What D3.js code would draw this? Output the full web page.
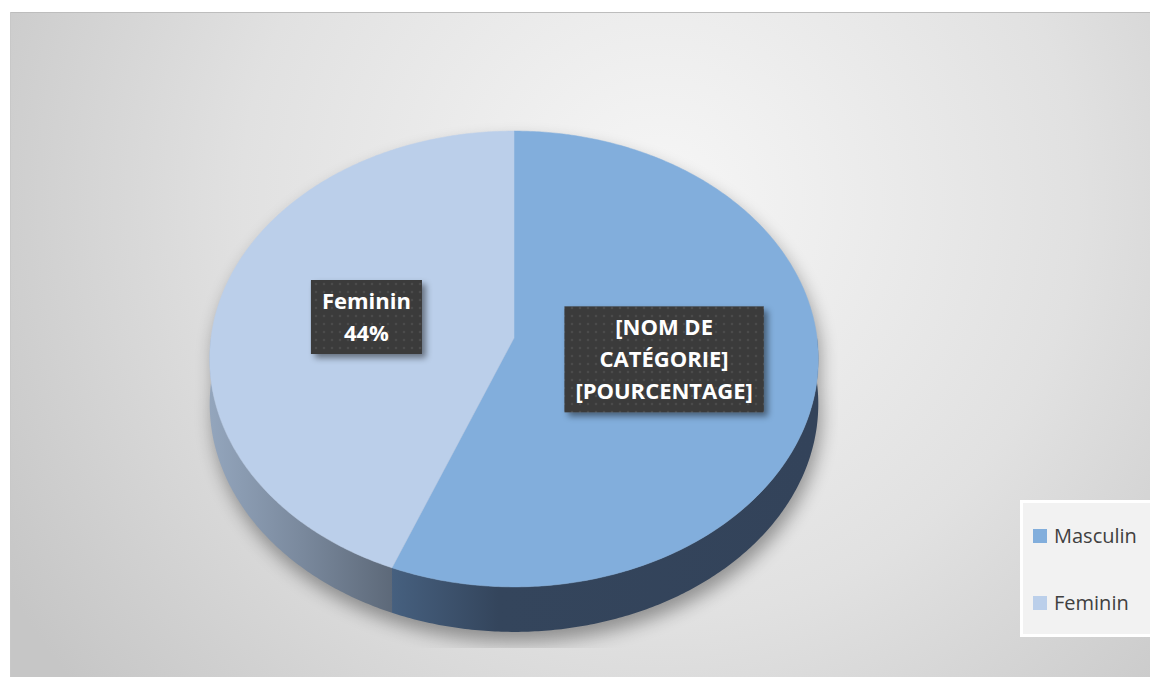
<!DOCTYPE html>
<html>
<head>
<meta charset="utf-8">
<script src="https://cdn.jsdelivr.net/npm/d3@7"></script>
<style>
  body { margin: 0; background: #fff; }
  text { font-family: "Open Sans", Lato, sans-serif; }
</style>
</head>
<body>
<svg id="sketch"></svg>
<script>
// data
var categories = ['Masculin', 'Feminin'];
var values = [56, 44];
var labelLines = [['[NOM DE', 'CATÉGORIE]', '[POURCENTAGE]'], ['Feminin', '44%']];
var topColors = ['#82aedc', '#bbcfea'];
var sideColors = [['#46607f', '#34455c', '#33435a'], ['#93a5bc', '#7a899d', '#5d6979']];

var W = 1150, H = 677;
var svg = d3.select('#sketch').attr('width', W).attr('height', H);
var defs = svg.append('defs');

// background
var bg = defs.append('radialGradient').attr('id', 'bg')
    .attr('gradientUnits', 'userSpaceOnUse')
    .attr('cx', 660).attr('cy', 200).attr('r', 760);
bg.append('stop').attr('offset', 0).attr('stop-color', '#f6f6f6');
bg.append('stop').attr('offset', 0.55).attr('stop-color', '#e1e1e1');
bg.append('stop').attr('offset', 1).attr('stop-color', '#c6c6c6');

svg.append('rect').attr('x', 10).attr('y', 12).attr('width', 1140).attr('height', 665)
    .attr('fill', 'url(#bg)');
svg.append('line').attr('x1', 10).attr('x2', 1150).attr('y1', 12.5).attr('y2', 12.5)
    .attr('stroke', '#bdbdbd');
svg.append('line').attr('x1', 10.5).attr('x2', 10.5).attr('y1', 12).attr('y2', 677)
    .attr('stroke', '#c8c8c8');

// pie geometry (simple perspective ellipse)
var cx = 514, cy = 338, R = 303, HR = 226, k = 0.092, depth = 45;
function proj(a, r, dy) {
    var u = Math.sin(a) * r, v = -Math.cos(a) * r;
    var f = 1 / (1 - k * v);
    return [cx + R * u * f, cy + HR * v * f + (dy || 0)];
}
function arcPts(a0, a1, dy) {
    var n = Math.max(2, Math.ceil(Math.abs(a1 - a0) / 0.01));
    return d3.range(n + 1).map(function(i) { return proj(a0 + (a1 - a0) * i / n, 1, dy); });
}
var line = d3.line();

var pie = d3.pie().sort(null).value(function(d) { return d; });
var arcs = pie(values);

// shadow
var sh = defs.append('filter').attr('id', 'pieShadow')
    .attr('x', '-20%').attr('y', '-20%').attr('width', '140%').attr('height', '140%');
sh.append('feGaussianBlur').attr('stdDeviation', 9);
defs.append('clipPath').attr('id', 'shClip').append('rect')
    .attr('x', 188).attr('y', 120).attr('width', 650).attr('height', 528);

var outline = arcPts(0, Math.PI / 2).concat(arcPts(Math.PI / 2, 3 * Math.PI / 2, depth))
    .concat(arcPts(3 * Math.PI / 2, 2 * Math.PI));
svg.append('g').attr('clip-path', 'url(#shClip)')
    .append('path')
    .attr('d', line(outline) + 'Z')
    .attr('transform', 'translate(3,10)')
    .attr('fill', '#000').attr('opacity', 0.36)
    .attr('filter', 'url(#pieShadow)');

// side walls
var sides = svg.append('g');
arcs.forEach(function(d, i) {
    var s = Math.max(d.startAngle, Math.PI / 2), e = Math.min(d.endAngle, 3 * Math.PI / 2);
    if (s >= e) return;
    var p0 = proj(s, 1), p1 = proj(e, 1);
    var g = defs.append('linearGradient').attr('id', 'side' + i)
        .attr('gradientUnits', 'userSpaceOnUse')
        .attr('x1', Math.min(p0[0], p1[0])).attr('x2', Math.max(p0[0], p1[0]))
        .attr('y1', 0).attr('y2', 0);
    var stops = i === 0 ? [0, 0.25, 1] : [0, 0.5, 1];
    sideColors[i].forEach(function(c, j) {
        g.append('stop').attr('offset', stops[j]).attr('stop-color', c);
    });
    var pts = arcPts(s, e, 0).concat(arcPts(e, s, depth));
    sides.append('path').attr('d', line(pts) + 'Z')
        .attr('fill', 'url(#side' + i + ')');
});

// top faces
var tops = svg.append('g');
arcs.forEach(function(d, i) {
    var pts = [proj(0, 0)].concat(arcPts(d.startAngle, d.endAngle, 0));
    tops.append('path').attr('d', line(pts) + 'Z')
        .attr('fill', topColors[i])
        .attr('stroke', topColors[i]).attr('stroke-width', 0.5);
});

// data labels
var pat = defs.append('pattern').attr('id', 'dots')
    .attr('patternUnits', 'userSpaceOnUse').attr('width', 8).attr('height', 8);
pat.append('rect').attr('width', 8).attr('height', 8).attr('fill', '#3a3a3a');
pat.append('circle').attr('cx', 4).attr('cy', 4).attr('r', 1.3).attr('fill', '#4c4c4c');

var ls = defs.append('filter').attr('id', 'lblShadow')
    .attr('x', '-20%').attr('y', '-20%').attr('width', '150%').attr('height', '150%');
ls.append('feDropShadow').attr('dx', 4).attr('dy', 4).attr('stdDeviation', 3)
    .attr('flood-color', '#000').attr('flood-opacity', 0.45);

var lh = 32, fs = 22;
arcs.forEach(function(d, i) {
    var mid = (d.startAngle + d.endAngle) / 2;
    var c = proj(mid, 0.5);
    var lines = labelLines[i];
    var g = svg.append('g');
    var box = g.append('rect').attr('fill', 'url(#dots)').attr('filter', 'url(#lblShadow)');
    var t = g.append('text').attr('text-anchor', 'middle')
        .attr('fill', '#fff').style('font-size', fs + 'px').style('font-weight', 700);
    var y0 = c[1] - (lines.length - 1) * lh / 2 + fs * 0.36;
    lines.forEach(function(l, j) {
        t.append('tspan').attr('x', c[0]).attr('y', y0 + j * lh).text(l);
    });
    var w = 0;
    t.selectAll('tspan').each(function() { w = Math.max(w, this.getComputedTextLength()); });
    var bw = w + 22, bh = lines.length * lh + 10;
    box.attr('x', c[0] - bw / 2).attr('y', c[1] - bh / 2).attr('width', bw).attr('height', bh);
});

// legend
var leg = svg.append('g');
leg.append('rect').attr('x', 1021.5).attr('y', 501.5).attr('width', 130).attr('height', 134)
    .attr('fill', '#f2f2f2').attr('stroke', '#fff').attr('stroke-width', 3);
var ly = d3.scalePoint().domain(categories).range([536, 603]);
categories.forEach(function(c, i) {
    leg.append('rect').attr('x', 1033).attr('y', ly(c) - 7).attr('width', 14).attr('height', 14)
        .attr('fill', topColors[i]);
    leg.append('text').attr('x', 1054).attr('y', ly(c) + 7)
        .attr('fill', '#404040').style('font-size', '20px').text(c);
});
</script>
</body>
</html>
